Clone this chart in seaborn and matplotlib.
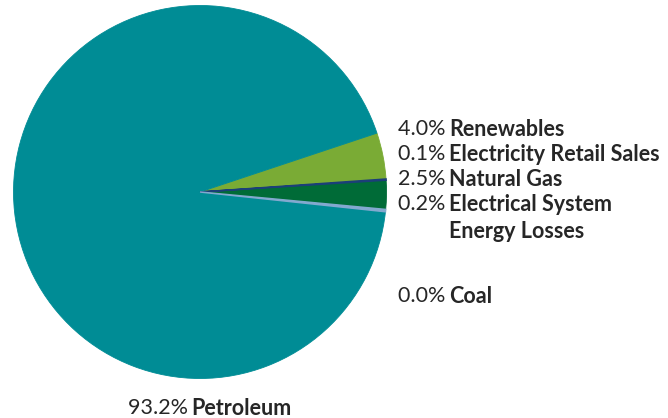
import matplotlib
matplotlib.use('Agg')
import matplotlib.pyplot as plt
import seaborn as sns

# data
sources = ['Renewables', 'Electricity Retail Sales', 'Natural Gas',
           'Electrical System\nEnergy Losses', 'Coal', 'Petroleum']
shares = [4.0, 0.1, 2.5, 0.2, 0.0, 93.2]
colors = ['#7aab35', '#1b3f78', '#006b37', '#82a9cf', '#5b6670', '#008c95']

sns.set_theme(style='white')
plt.rcParams['font.family'] = ['Lato', 'DejaVu Sans']

W, H = 668, 418
fig = plt.figure(figsize=(W / 100, H / 100), dpi=100)

# pie centre (200, 192) px, radius ~186.5 px
cx, cy, r = 200, 192, 186.5
ax = fig.add_axes([(cx - r) / W, (H - cy - r) / H, 2 * r / W, 2 * r / H])
wedges, _ = ax.pie(shares, colors=colors, startangle=18.4, counterclock=False,
                   wedgeprops=dict(linewidth=0.6))
for w, c, s in zip(wedges, colors, shares):
    w.set_edgecolor(c)
    if 0 < s < 1:
        # very thin slices: draw on top so they stay visible
        w.set_zorder(3)
        w.set_linewidth(1.1)
ax.set_xlim(-1, 1)
ax.set_ylim(-1, 1)
ax.set_aspect('equal')
ax.axis('off')

# label layout: (left x px, vertical centre px) for each source
label_pos = [(398, 129), (398, 154), (398, 179), (398, 204), (398, 296), (128, 408)]

txt_color = '#262626'
fsize = 15.5
for name, val, (lx, ly) in zip(sources, shares, label_pos):
    t = fig.text(lx / W, 1 - ly / H, f'{val:.1f}% ', fontsize=fsize,
                 color=txt_color, ha='left', va='center')
    ax.annotate(name, xy=(1, 1), xycoords=t, ha='left', va='top',
                xytext=(-1.5, 0), textcoords='offset points',
                fontsize=fsize, color=txt_color, fontweight='bold',
                linespacing=1.38, annotation_clip=False)

fig.savefig('out.png', dpi=100)
